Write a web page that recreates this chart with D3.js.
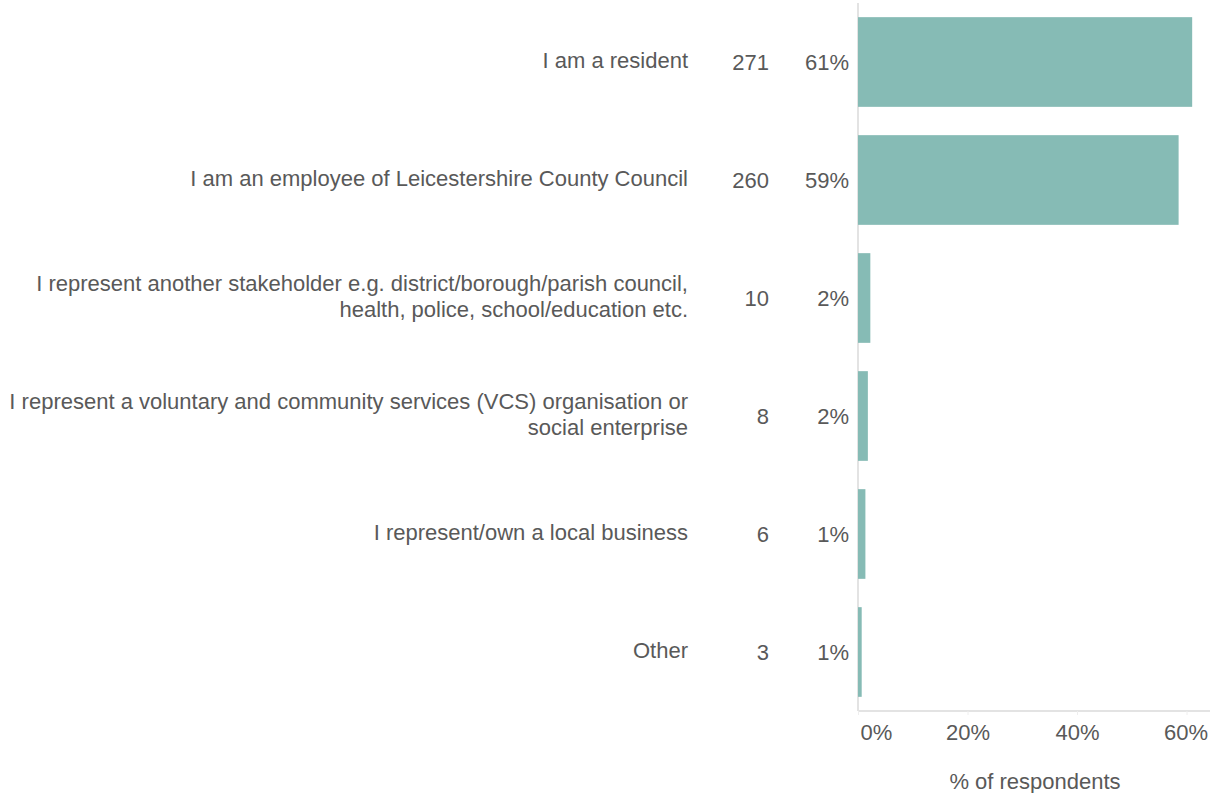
<!DOCTYPE html>
<html>
<head>
<meta charset="utf-8">
<script src="https://cdn.jsdelivr.net/npm/d3@7"></script>
<style>
body {margin:0; background:#fff;}
text {font-family:"Liberation Sans", Arial, sans-serif; fill:#595959;}
</style>
</head>
<body>
<div class="chart"></div>
<script>
const categories = [
    ['I am a resident'],
    ['I am an employee of Leicestershire County Council'],
    ['I represent another stakeholder e.g. district/borough/parish council,', 'health, police, school/education etc.'],
    ['I represent a voluntary and community services (VCS) organisation or', 'social enterprise'],
    ['I represent/own a local business'],
    ['Other']
];
const counts = [271, 260, 10, 8, 6, 3];
const pctLabels = ['61%', '59%', '2%', '2%', '1%', '1%'];
const total = 444;
const xTicks = [0, 0.2, 0.4, 0.6];

const margin = {top:3, left:858, bottom:82, right:6};
const width = 1216 - margin.left - margin.right;
const height = 793 - margin.top - margin.bottom;
const fs = '22px';

const svg = d3.select('.chart')
    .append('svg')
    .attr('width', 1216)
    .attr('height', 793)
    .append('g')
    .attr('transform', 'translate('+margin.left+','+margin.top+')');

const idx = d3.range(categories.length);

const xScale = d3.scaleLinear()
    .domain([0, 0.6])
    .range([0, 328.5]);

const yScale = d3.scaleBand()
    .domain(idx)
    .range([0, height])
    .paddingInner(0.24)
    .paddingOuter(0.12);

// axis lines
svg.append('line')
    .attr('x1', 0).attr('x2', 0)
    .attr('y1', 0).attr('y2', height)
    .attr('stroke', '#e3e3e3')
    .attr('stroke-width', 2);

svg.append('line')
    .attr('x1', 0).attr('x2', width)
    .attr('y1', height).attr('y2', height)
    .attr('stroke', '#e3e3e3')
    .attr('stroke-width', 2);

const xAxis = d3.axisBottom(xScale)
    .tickValues(xTicks)
    .tickFormat(d3.format('.0%'))
    .tickSize(4)
    .tickPadding(9);

const gx = svg.append('g')
    .attr('class', 'x-axis')
    .attr('transform', `translate(0, ${height})`)
    .call(xAxis);
gx.select('.domain').remove();
gx.selectAll('.tick line').attr('stroke', '#eeeeee');
gx.selectAll('.tick text')
    .style('font-size', fs)
    .style('font-family', '"Liberation Sans", Arial, sans-serif')
    .attr('fill', '#595959')
    .attr('dx', (d,i) => i == 0 ? 18 : (i == 3 ? -1 : 0));

svg.selectAll('.bars')
    .data(idx)
    .enter()
    .append('rect')
    .attr('class', 'bars')
    .attr('x', 0)
    .attr('y', d => yScale(d))
    .attr('width', d => xScale(counts[d] / total))
    .attr('height', yScale.bandwidth())
    .attr('fill', '#86bbb5');

const rows = svg.selectAll('.row')
    .data(idx)
    .enter()
    .append('g')
    .attr('class', 'row')
    .attr('transform', d => `translate(0, ${yScale(d) + yScale.bandwidth()/2})`);

rows.append('text')
    .attr('x', -9)
    .attr('text-anchor', 'end')
    .attr('dy', '0.35em')
    .style('font-size', fs)
    .text(d => pctLabels[d]);

rows.append('text')
    .attr('x', -89)
    .attr('text-anchor', 'end')
    .attr('dy', '0.35em')
    .style('font-size', fs)
    .text(d => counts[d]);

rows.append('text')
    .attr('text-anchor', 'end')
    .style('font-size', fs)
    .each(function(d){
        const lines = categories[d];
        const t = d3.select(this);
        lines.forEach((l, i) => {
            t.append('tspan')
                .attr('x', -170)
                .attr('y', (i - (lines.length - 1) / 2) * 26 - 2)
                .attr('dy', '0.35em')
                .text(l);
        });
    });

svg.append('text')
    .attr('x', 177)
    .attr('y', height + 78)
    .attr('text-anchor', 'middle')
    .style('font-size', fs)
    .attr('fill', '#404040')
    .text('% of respondents');
</script>
</body>
</html>
